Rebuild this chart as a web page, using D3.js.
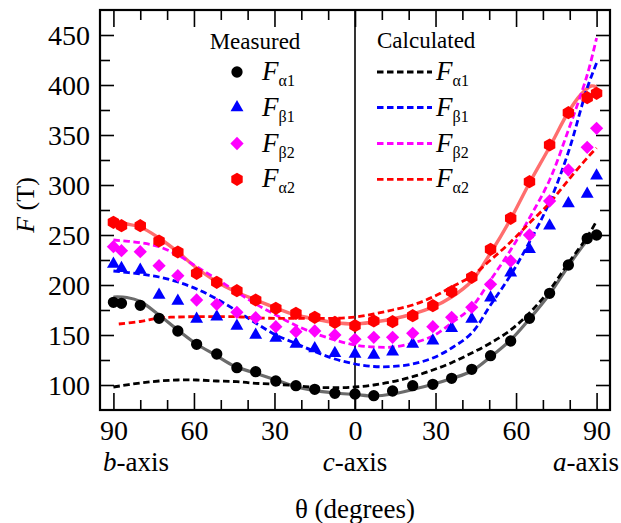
<!DOCTYPE html>
<html>
<head>
<meta charset="utf-8">
<script src="https://cdn.jsdelivr.net/npm/d3@7"></script>
<style>
  body { margin: 0; background: #fff; }
  svg text { font-family: "Liberation Serif", "DejaVu Serif", "Times New Roman", Times, serif; fill: #000; }
</style>
</head>
<body>
<svg id="chart" width="621" height="523"></svg>
<script>
// measured angles (b-axis side negative, a-axis side positive)
const angles = [-90, -87, -80, -73, -66, -59, -51.5, -44, -37, -29.5, -22, -15, -7.5, 0,
  7, 14, 21.5, 29, 36, 43.5, 50.5, 58, 65, 72.5, 79.5, 86.5, 90];
const fAlpha1 = [182.7, 181.7, 179.7, 166.7, 154, 140.7, 131, 117.3, 113.3, 104, 99.3, 95.7, 91.7, 91,
  89.3, 94, 99.3, 100.7, 106.7, 115.7, 129.3, 144, 166.7, 191.7, 220, 246.5, 250];
const fBeta1 = [221, 216.7, 215, 190, 184, 166, 168.3, 159, 150, 147, 141, 136.5, 131.7, 131,
  130, 133.3, 141, 144.3, 156.7, 166, 187.3, 212.3, 235.7, 259.3, 281.5, 291, 309.3];
const fBeta2 = [238.3, 234.3, 233.3, 219.3, 209.3, 185, 180.7, 172.7, 167.3, 158.3, 153.3, 154, 150, 145.7,
  147.7, 147.7, 151.7, 158.3, 167.7, 177.7, 200.7, 224, 250, 284, 315, 337.7, 356.7];
const fAlpha2 = [262.7, 259.3, 259.3, 244, 233, 211.7, 202.7, 194.3, 185, 176.7, 171.7, 167.7, 162.7, 159.3,
  164, 163.3, 169.3, 179.3, 193.3, 207.7, 235.7, 266.7, 303.3, 340, 372.3, 387.3, 391.7];

// fitted curves through measured points
const fitAngles = [-90, -85, -80, -73, -66, -59, -52, -45, -37, -29.5, -22, -15, -7.5, 0,
  7, 14, 21.5, 29, 36, 43.5, 50.5, 58, 65, 72.5, 79.5, 84, 88, 90];
const fitAlpha1 = [188, 187.5, 183.5, 170, 155, 141, 130, 119, 111.7, 105, 98.3, 94.3, 92, 90.5,
  89, 91, 95.5, 100.7, 106.5, 114, 128, 145, 166, 191, 219, 236, 249, 252];
const fitAlpha2 = [263, 261, 258, 247, 233, 217, 204, 194, 185, 177, 170, 166, 162.5, 161,
  163, 166, 171, 178, 188, 204, 232, 266, 302, 338, 373, 390, 399, 398];

// calculated curves
const calcAngles = [-90, -80, -73, -66, -59, -51.5, -44, -37, -29.5, -22, -15, -7.5, 0,
  7, 14, 21.5, 29, 36, 43.5, 50.5, 58, 65, 72.5, 79.5, 86.5, 90];
const calcAlpha1 = [98, 102, 104, 105, 105, 104, 103.3, 101.7, 100.7, 99.3, 97.7, 97.3, 98,
  100, 103.3, 108.3, 115, 122.3, 132, 142, 155, 172, 195, 222, 248, 264];
const calcBeta1 = [214, 211, 208, 203, 196, 186, 174, 162, 150, 141.5, 133.5, 126, 121,
  118.5, 118.5, 121, 127, 137, 152, 180, 210, 243, 283, 333, 397, 422];
const calcBeta2 = [245, 242.3, 238.3, 230, 218.3, 206, 193, 181, 170, 159.5, 151.7, 145, 140,
  138, 138, 142, 149, 162, 178, 205, 235, 267, 305, 355, 410, 447];
const calcAlpha2Angles = [-88, -80, -73, -66, -59, -51.5, -44, -37, -29.5, -22, -15, -7.5, 0,
  7, 14, 21.5, 29, 36, 43.5, 50.5, 58, 65, 72.5, 79.5, 86.5, 90];
const calcAlpha2 = [161, 163.5, 167, 168, 168.3, 168.3, 168.3, 167, 166.7, 166.7, 166.7, 166.7, 168,
  171, 175, 180, 188, 198, 209, 225, 243, 262, 282, 305, 327, 337];

const xMajor = [-90, -60, -30, 0, 30, 60, 90];
const xMinor = [-80, -70, -50, -40, -20, -10, 10, 20, 40, 50, 70, 80];
const yMajor = [100, 150, 200, 250, 300, 350, 400, 450];
const yMinor = [125, 175, 225, 275, 325, 375, 425];

const svg = d3.select("#chart");
const width = +svg.attr("width");
const height = +svg.attr("height");
const margin = { top: 10, bottom: 113, left: 100, right: 11 };
const serif = '"Liberation Serif", "DejaVu Serif", "Times New Roman", Times, serif';

const xScale = d3.scaleLinear().domain([-95, 95]).range([margin.left, width - margin.right]);
const yScale = d3.scaleLinear().domain([75, 475]).range([height - margin.bottom, margin.top]);
const x0 = xScale.range()[0], x1 = xScale.range()[1];
const y0 = yScale.range()[0], y1 = yScale.range()[1];

// Axes (ticks point inward, mirrored on top/right)
const tickAxis = (axis, vals, size) => axis.tickValues(vals).tickSize(-size).tickFormat("");
const styleAxis = (g) => {
  g.attr("font-family", serif);
  g.select(".domain").remove();
  g.selectAll("line").attr("stroke", "#000").attr("stroke-width", 1.6);
};

svg.append("g").attr("transform", `translate(0,${y0})`)
  .call(d3.axisBottom(xScale).tickValues(xMajor).tickSize(-17).tickFormat((d) => Math.abs(d)))
  .call(styleAxis)
  .call((g) => g.selectAll("text").attr("y", 30).attr("dy", 0).attr("font-size", 28));
svg.append("g").attr("transform", `translate(0,${y0})`)
  .call(tickAxis(d3.axisBottom(xScale), xMinor, 10)).call(styleAxis);
svg.append("g").attr("transform", `translate(0,${y1})`)
  .call(tickAxis(d3.axisTop(xScale), xMajor, 17)).call(styleAxis);
svg.append("g").attr("transform", `translate(0,${y1})`)
  .call(tickAxis(d3.axisTop(xScale), xMinor, 10)).call(styleAxis);

svg.append("g").attr("transform", `translate(${x0},0)`)
  .call(d3.axisLeft(yScale).tickValues(yMajor).tickSize(-14).tickPadding(10))
  .call(styleAxis)
  .call((g) => g.selectAll("text").attr("font-size", 28).attr("dy", "0.34em"));
svg.append("g").attr("transform", `translate(${x0},0)`)
  .call(tickAxis(d3.axisLeft(yScale), yMinor, 10)).call(styleAxis);
svg.append("g").attr("transform", `translate(${x1},0)`)
  .call(tickAxis(d3.axisRight(yScale), yMajor, 14)).call(styleAxis);
svg.append("g").attr("transform", `translate(${x1},0)`)
  .call(tickAxis(d3.axisRight(yScale), yMinor, 10)).call(styleAxis);

// frame and c-axis line
svg.append("rect")
  .attr("x", x0).attr("y", y1).attr("width", x1 - x0).attr("height", y0 - y1)
  .attr("fill", "none").attr("stroke", "#000").attr("stroke-width", 2.2);
svg.append("line")
  .attr("x1", xScale(0)).attr("x2", xScale(0)).attr("y1", y1).attr("y2", y0)
  .attr("stroke", "#000").attr("stroke-width", 1.6);

// Lines
const lineGen = (xs) => d3.line()
  .x((d, i) => xScale(xs[i]))
  .y((d) => yScale(d))
  .curve(d3.curveCatmullRom.alpha(0.5));

const plot = svg.append("g");
plot.append("path").attr("d", lineGen(fitAngles)(fitAlpha1))
  .attr("fill", "none").attr("stroke", "#6b6b6b").attr("stroke-width", 3.2);
plot.append("path").attr("d", lineGen(fitAngles)(fitAlpha2))
  .attr("fill", "none").attr("stroke", "#ff6e6e").attr("stroke-width", 3.4);

const calcSeries = [
  { xs: calcAngles, ys: calcAlpha1, color: "#000000" },
  { xs: calcAngles, ys: calcBeta1, color: "#0000ff" },
  { xs: calcAngles, ys: calcBeta2, color: "#ff00ff" },
  { xs: calcAlpha2Angles, ys: calcAlpha2, color: "#ff0000" },
];
calcSeries.forEach((s) => {
  plot.append("path").attr("d", lineGen(s.xs)(s.ys))
    .attr("fill", "none").attr("stroke", s.color).attr("stroke-width", 2.8)
    .attr("stroke-dasharray", "6.5,3.5");
});

// Markers
const hexPath = (r) => {
  const pts = d3.range(6).map((k) => {
    const a = Math.PI / 6 + (k * Math.PI) / 3;
    return [r * Math.cos(a), r * Math.sin(a)];
  });
  return "M" + pts.map((p) => p.join(",")).join("L") + "Z";
};
const markers = [
  { ys: fAlpha1, color: "#000000", path: d3.symbol(d3.symbolCircle, 100)(), rot: 0 },
  { ys: fBeta1, color: "#0000ff", path: d3.symbol(d3.symbolTriangle, 72)(), rot: 0 },
  { ys: fBeta2, color: "#ff00ff", path: d3.symbol(d3.symbolSquare, 88)(), rot: 45 },
  { ys: fAlpha2, color: "#ff0000", path: hexPath(6.6), rot: 0 },
];
markers.forEach((m) => {
  plot.append("g").selectAll("path")
    .data(m.ys)
    .enter()
    .append("path")
    .attr("d", m.path)
    .attr("fill", m.color)
    .attr("transform", (d, i) => `translate(${xScale(angles[i])},${yScale(d)}) rotate(${m.rot})`);
});

// Legend
const labels = ["\u03b11", "\u03b21", "\u03b22", "\u03b12"];
const rowY = [72, 107.5, 143.5, 179.3];
const fLabel = (x, y, sub) => {
  const t = svg.append("text").attr("x", x).attr("y", y + 8).attr("font-size", 27);
  t.append("tspan").attr("font-style", "italic").text("F");
  t.append("tspan").attr("font-size", 16).attr("dy", 6).text(sub);
};
svg.append("text").attr("x", 255).attr("y", 49).attr("text-anchor", "middle")
  .attr("font-size", 23).text("Measured");
svg.append("text").attr("x", 377).attr("y", 48)
  .attr("font-size", 23).text("Calculated");
markers.forEach((m, i) => {
  svg.append("path").attr("d", m.path).attr("fill", m.color)
    .attr("transform", `translate(237,${rowY[i]}) rotate(${m.rot})`);
  fLabel(262, rowY[i], labels[i]);
});
calcSeries.forEach((s, i) => {
  svg.append("line").attr("x1", 377).attr("x2", 432).attr("y1", rowY[i]).attr("y2", rowY[i])
    .attr("stroke", s.color).attr("stroke-width", 2.8).attr("stroke-dasharray", "6.5,3.5");
  fLabel(436, rowY[i], labels[i]);
});

// Axis titles
const yTitle = svg.append("text")
  .attr("transform", "translate(34,205) rotate(-90)")
  .attr("text-anchor", "middle").attr("font-size", 26);
yTitle.append("tspan").attr("font-style", "italic").text("F");
yTitle.append("tspan").text(" (T)");

const axisName = (x, anchor, letter) => {
  const t = svg.append("text").attr("x", x).attr("y", 471)
    .attr("text-anchor", anchor).attr("font-size", 27);
  t.append("tspan").attr("font-style", "italic").text(letter);
  t.append("tspan").text("-axis");
};
axisName(103, "start", "b");
axisName(xScale(0), "middle", "c");
axisName(619, "end", "a");

svg.append("text").attr("x", xScale(0)).attr("y", 518)
  .attr("text-anchor", "middle").attr("font-size", 27).text("\u03b8 (degrees)");
</script>
</body>
</html>
